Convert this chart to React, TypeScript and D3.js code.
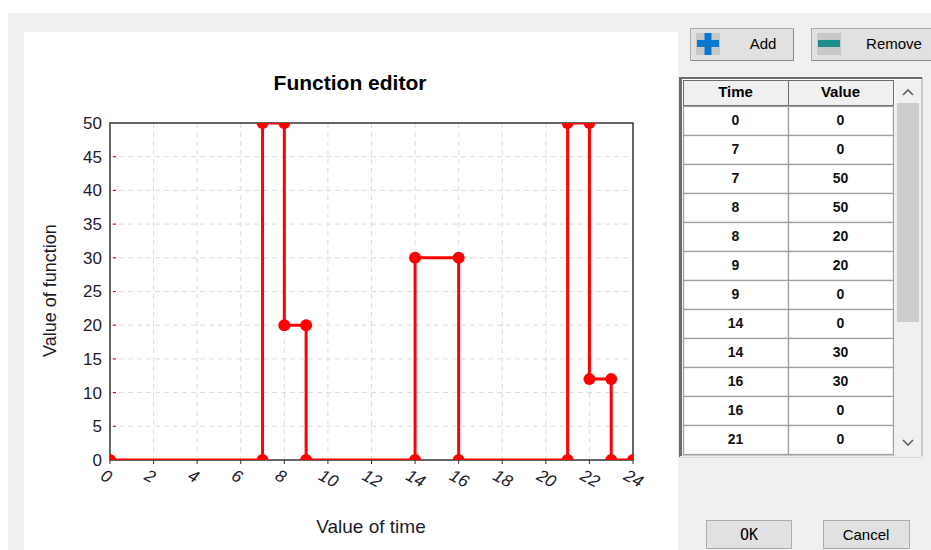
import React from "react";
import * as d3 from "d3";

const times = [0, 7, 7, 8, 8, 9, 9, 14, 14, 16, 16, 21, 21, 22, 22, 23, 23, 24];
const values = [0, 0, 50, 50, 20, 20, 0, 0, 30, 30, 0, 0, 50, 50, 12, 12, 0, 0];
const xTicks = [0, 2, 4, 6, 8, 10, 12, 14, 16, 18, 20, 22, 24];
const yTicks = [0, 5, 10, 15, 20, 25, 30, 35, 40, 45, 50];
const visibleRows = 12;

const W = 931, H = 550;
const L = 110, R = 633, T = 123, B = 460;
const font = "Arial, 'Liberation Sans', sans-serif";

export default function App() {
  const x = d3.scaleLinear().domain([0, 24]).range([L, R]);
  const y = d3.scaleLinear().domain([0, 50]).range([B, T]);
  const pts = times.map((t, i) => [t, values[i]] as [number, number]);
  const line = d3.line<[number, number]>().x((d) => x(d[0])).y((d) => y(d[1]));

  const tblX = 683, colW = 105, headY = 80, headH = 25, rowH = 29;
  const rows = pts.slice(0, visibleRows);

  return (
    <div style={{ position: "absolute", left: 0, top: 0 }}>
      <svg width={W} height={H} style={{ display: "block" }}>
        <rect x={0} y={0} width={W} height={H} fill="#ffffff" />
        <rect x={8} y={13} width={W - 8} height={H - 13} fill="#f0f0f0" />
        <rect x={24} y={32} width={654} height={H - 32} fill="#ffffff" />

        {/* grid */}
        {xTicks.slice(1, -1).map((t) => (
          <line key={"gx" + t} x1={x(t)} x2={x(t)} y1={T} y2={B} stroke="#dcdcdc" strokeDasharray="5,4" />
        ))}
        {yTicks.slice(1, -1).map((t) => (
          <line key={"gy" + t} x1={L} x2={R} y1={y(t)} y2={y(t)} stroke="#dcdcdc" strokeDasharray="5,4" />
        ))}
        {yTicks.slice(1, -1).map((t) => (
          <line key={"ry" + t} x1={L + 3} x2={L + 6} y1={y(t)} y2={y(t)} stroke="#ff0000" strokeWidth={1.2} />
        ))}
        {/* frame */}
        <rect x={L} y={T} width={R - L} height={B - T} fill="none" stroke="#333" strokeWidth={1.5} />
        {xTicks.map((t) => (
          <line key={"tx" + t} x1={x(t)} x2={x(t)} y1={B} y2={B + 4} stroke="#333" strokeWidth={1} />
        ))}

        <defs>
          <clipPath id="plotclip">
            <rect x={L} y={T} width={R - L} height={B - T} />
          </clipPath>
        </defs>
        <g clipPath="url(#plotclip)">
          <path d={line(pts) || ""} fill="none" stroke="#ff0000" strokeWidth={3} />
          {pts.map((p, i) => (
            <circle key={i} cx={x(p[0])} cy={y(p[1])} r={6} fill="#ff0000" />
          ))}
        </g>

        {/* y tick labels */}
        {yTicks.map((t) => (
          <text key={"ly" + t} x={L - 8} y={y(t)} dy="0.35em" textAnchor="end" fontFamily={font} fontSize={17} fill="#1c1c2c">
            {t}
          </text>
        ))}
        {/* x tick labels */}
        {xTicks.map((t) => (
          <text
            key={"lx" + t}
            transform={`translate(${x(t) - 4},${B + 7}) rotate(28)`}
            dy="0.8em"
            fontFamily={font}
            fontSize={17}
            fontStyle="italic"
            fill="#1c1c2c"
          >
            {t}
          </text>
        ))}

        <text x={350} y={90} textAnchor="middle" fontFamily={font} fontSize={21} fontWeight="bold" fill="#000">
          Function editor
        </text>
        <text x={371} y={533} textAnchor="middle" fontFamily={font} fontSize={19} fill="#1c1c2c">
          Value of time
        </text>
        <text transform={`translate(56,${(T + B) / 2 - 1}) rotate(-90)`} textAnchor="middle" fontFamily={font} fontSize={18} fill="#1c1c2c">
          Value of function
        </text>

        {/* buttons */}
        <rect x={690.5} y={28.5} width={103} height={32} fill="#e1e1e1" stroke="#adadad" />
        <line x1={691} x2={794} y1={60.5} y2={60.5} stroke="#8a8a8a" />
        <line x1={793.5} x2={793.5} y1={29} y2={61} stroke="#8a8a8a" />
        <rect x={696} y={33} width={24} height={22} fill="#c8c8c8" />
        <rect x={697} y={40} width={22} height={7} fill="#0a78d2" />
        <rect x={704.5} y={33} width={7} height={22} fill="#0a78d2" />
        <text x={763} y={49} textAnchor="middle" fontFamily={font} fontSize={15} fill="#000">Add</text>

        <rect x={811.5} y={28.5} width={125} height={32} fill="#e1e1e1" stroke="#adadad" />
        <line x1={812} x2={931} y1={60.5} y2={60.5} stroke="#8a8a8a" />
        <rect x={817} y={33} width={24} height={22} fill="#c8c8c8" />
        <rect x={818} y={40} width={22} height={7} fill="#1e8c8c" />
        <text x={894} y={49} textAnchor="middle" fontFamily={font} fontSize={15} fill="#000">Remove</text>

        {/* table */}
        <rect x={678} y={75} width={246} height={383} fill="#f0f0f0" />
        <rect x={680} y={78} width={242} height={378} fill="#ffffff" stroke="#a0a0a0" />
        <line x1={680.5} x2={680.5} y1={78} y2={457} stroke="#6b6b6b" strokeWidth={3} />
        <line x1={679} x2={922} y1={78} y2={78} stroke="#6b6b6b" strokeWidth={2} />
        <rect x={895} y={80} width={26} height={376} fill="#f0f0f0" />
        <rect x={897} y={103} width={22} height={219} fill="#cdcdcd" />
        <path d="M903,95 L908,90 L913,95" fill="none" stroke="#606060" strokeWidth={1.6} />
        <path d="M903,440 L908,445 L913,440" fill="none" stroke="#606060" strokeWidth={1.6} />

        {["Time", "Value"].map((h, i) => (
          <g key={h}>
            <rect x={tblX + i * colW + 0.5} y={headY + 0.5} width={colW} height={headH} fill="#f0f0f0" stroke="#6b6b6b" />
            <text x={tblX + i * colW + colW / 2} y={headY + 17} textAnchor="middle" fontFamily={font} fontSize={15} fontWeight="bold" fill="#000">
              {h}
            </text>
          </g>
        ))}
        {rows.map((r, i) => {
          const ry = headY + headH + 1 + i * rowH;
          return (
            <g key={"row" + i}>
              {[r[0], r[1]].map((v, j) => (
                <g key={j}>
                  <rect x={tblX + j * colW + 0.5} y={ry + 0.5} width={colW} height={rowH} fill="#ffffff" stroke="#a0a0a0" strokeWidth={1.3} />
                  <text x={tblX + j * colW + colW / 2} y={ry + rowH / 2 + 4} textAnchor="middle" fontFamily={font} fontSize={14} fontWeight={600} fill="#111">
                    {v}
                  </text>
                </g>
              ))}
            </g>
          );
        })}
        <rect x={680} y={456} width={243} height={3} fill="#f0f0f0" />
        <line x1={679} x2={923} y1={457.5} y2={457.5} stroke="#d8d8d8" />

        {/* OK / Cancel */}
        <rect x={706.5} y={520.5} width={85} height={28} fill="#e1e1e1" stroke="#adadad" />
        <text x={749} y={540} textAnchor="middle" fontFamily="'DejaVu Sans Mono', monospace" fontSize={15} fill="#000">OK</text>
        <rect x={823.5} y={520.5} width={86} height={28} fill="#e1e1e1" stroke="#adadad" />
        <text x={866} y={540} textAnchor="middle" fontFamily={font} fontSize={15} fill="#000">Cancel</text>
      </svg>
    </div>
  );
}
